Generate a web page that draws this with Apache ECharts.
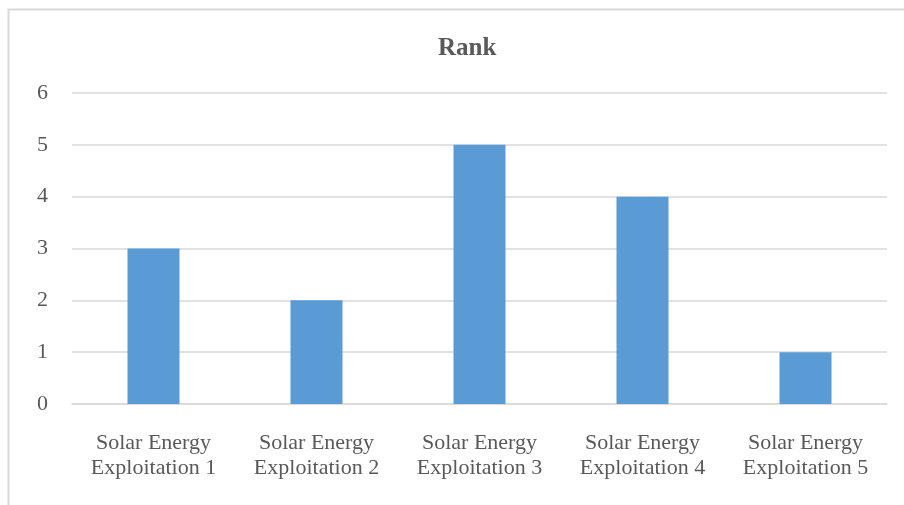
<!DOCTYPE html>
<html><head><meta charset="utf-8">
<script src="https://cdn.jsdelivr.net/npm/echarts@6/dist/echarts.min.js"></script>
<style>html,body{margin:0;padding:0;background:#fff}#c{width:904px;height:505px}</style>
</head><body><div id="c"></div>
<script>
var categories = ['Solar Energy\nExploitation 1','Solar Energy\nExploitation 2','Solar Energy\nExploitation 3','Solar Energy\nExploitation 4','Solar Energy\nExploitation 5'];
var rankValues = [3, 2, 5, 4, 1];
var chart = echarts.init(document.getElementById('c'), null, {renderer:'canvas'});
var font = '"Liberation Serif", "Times New Roman", serif';
chart.setOption({
  animation:false,
  backgroundColor:'#fff',
  graphic:[{type:'rect', shape:{x:8.5,y:9.5,width:1000,height:1000}, style:{fill:'none',stroke:'#d9d9d9',lineWidth:2}, silent:true}],
  title:{text:'Rank', left:433, top:31, textStyle:{fontFamily:font, fontSize:25, fontWeight:'bold', color:'#595959'}},
  grid:{left:72, right:17, top:93, bottom:101},
  xAxis:{type:'category', data:categories,
    axisLine:{lineStyle:{color:'#d9d9d9', width:1.5}}, axisTick:{show:false},
    axisLabel:{fontFamily:font, fontSize:22, color:'#595959', lineHeight:25, margin:27, interval:0}},
  yAxis:{type:'value', min:0, max:6, interval:1,
    axisLine:{show:false}, axisTick:{show:false},
    splitLine:{lineStyle:{color:'#d9d9d9', width:1.5}},
    axisLabel:{fontFamily:font, fontSize:22, color:'#595959', margin:24}},
  series:[{type:'bar', data:rankValues, barWidth:52, itemStyle:{color:'#5b9bd5'}}]
});
</script></body></html>
